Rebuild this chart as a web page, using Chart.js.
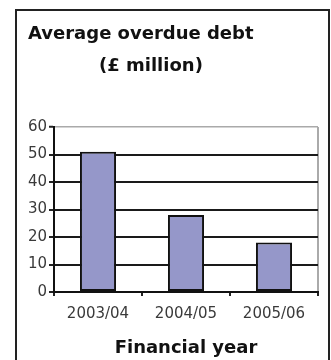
<!DOCTYPE html>
<html>
<head>
<meta charset="utf-8">
<script src="https://cdn.jsdelivr.net/npm/chart.js@4"></script>
<style>
  html, body { margin: 0; padding: 0; background: #fff; overflow: hidden; }
  #frame { position: absolute; left: 15px; top: 9px; width: 315px; height: 400px; box-sizing: border-box; border: 2px solid #222; }
  #c { position: absolute; left: 0; top: 0; }
</style>
</head>
<body>
<div id="frame"></div>
<canvas id="c" width="331" height="360"></canvas>
<script>
const categories = ['2003/04', '2004/05', '2005/06'];
const debtValues = [51, 28, 18];
const yTicks = [0, 10, 20, 30, 40, 50, 60];
const titleLines = ['Average overdue debt', '(£ million)'];
const xAxisTitle = 'Financial year';

const FONT = '"DejaVu Sans", Verdana, sans-serif';

const headerPlugin = {
  id: 'header',
  afterDraw(chart) {
    const ctx = chart.ctx;
    ctx.save();
    ctx.fillStyle = '#111';
    ctx.font = 'bold 18px ' + FONT;
    ctx.textBaseline = 'alphabetic';
    ctx.textAlign = 'left';
    ctx.fillText(titleLines[0], 28, 39);
    ctx.fillText(titleLines[1], 99, 71);
    ctx.restore();
  }
};

new Chart(document.getElementById('c'), {
  type: 'bar',
  data: {
    labels: categories,
    datasets: [{
      data: debtValues,
      backgroundColor: '#9597c9',
      borderColor: '#111',
      borderWidth: 2,
      borderSkipped: false,
      barPercentage: 0.41,
      categoryPercentage: 1
    }]
  },
  options: {
    responsive: false,
    animation: false,
    devicePixelRatio: 1,
    layout: { padding: { left: 0, right: 13, top: 127, bottom: 0 } },
    plugins: { legend: { display: false }, tooltip: { enabled: false }, title: { display: false } },
    scales: {
      x: {
        offset: true,
        border: { display: true, color: '#111', width: 2 },
        grid: {
          offset: true,
          drawOnChartArea: true,
          drawTicks: true,
          tickLength: 4,
          lineWidth: 2,
          tickWidth: 2,
          tickColor: '#222',
          color: ctx => ctx.type === 'tick' ? 'rgba(0,0,0,0)' : '#aaa'
        },
        ticks: { color: '#3a3a3a', font: { family: FONT, size: 15 }, padding: 9, maxRotation: 0 },
        title: { display: true, text: xAxisTitle, color: '#111', font: { family: FONT, size: 18, weight: 'bold' }, padding: { top: 0, bottom: 1 } },
        afterFit(scale) { scale.height = 68; }
      },
      y: {
        min: yTicks[0],
        max: yTicks[yTicks.length - 1],
        border: { display: true, color: '#111', width: 2 },
        grid: {
          drawTicks: true,
          tickLength: 5,
          lineWidth: ctx => ctx.tick && ctx.tick.value === yTicks[yTicks.length - 1] ? 1.5 : 2,
          tickWidth: 2,
          tickColor: '#222',
          color: ctx => ctx.tick && ctx.tick.value === yTicks[yTicks.length - 1] ? '#aaa' : '#1a1a1a'
        },
        afterBuildTicks(scale) { scale.ticks = yTicks.map(v => ({ value: v })); },
        ticks: { color: '#3a3a3a', font: { family: FONT, size: 15 }, padding: 2 },
        afterFit(scale) { scale.width = 54; }
      }
    }
  },
  plugins: [headerPlugin]
});
</script>
</body>
</html>
